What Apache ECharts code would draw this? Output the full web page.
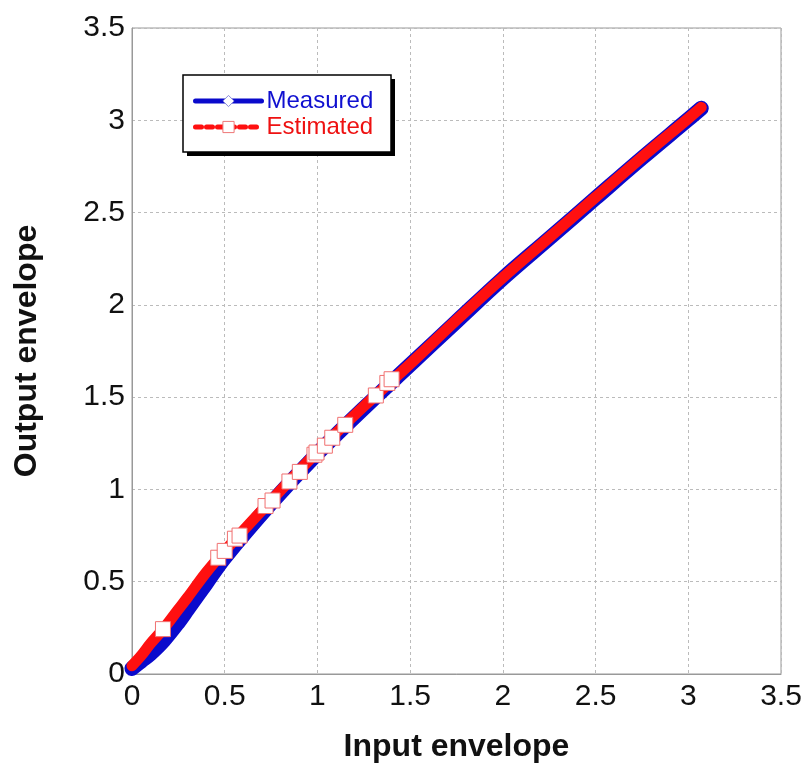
<!DOCTYPE html>
<html>
<head>
<meta charset="utf-8">
<script src="https://cdn.jsdelivr.net/npm/echarts@6/dist/echarts.min.js"></script>
<style>
  html, body { margin: 0; padding: 0; background: #fff; }
  #chart { width: 807px; height: 773px; }
</style>
</head>
<body>
<div id="chart"></div>
<script>
// input envelope samples (x)
const inputX = [0, 0.05, 0.1, 0.17, 0.25, 0.3, 0.4, 0.5, 0.75, 1.0, 1.25, 1.5, 1.75, 2.0, 2.25, 2.5, 2.75, 3.0, 3.07]
// output envelope
const measuredY = [0.03, 0.07, 0.11, 0.18, 0.28, 0.35, 0.49, 0.63, 0.925, 1.195, 1.44, 1.675, 1.91, 2.143, 2.36, 2.578, 2.795, 3.005, 3.065]
const estimatedY = [0.045, 0.10, 0.165, 0.245, 0.35, 0.415, 0.55, 0.667, 0.94, 1.205, 1.45, 1.68, 1.918, 2.148, 2.365, 2.583, 2.80, 3.01, 3.07]

// white square markers on the estimated curve
const markerX = [0.167, 0.465, 0.5, 0.555, 0.58, 0.72, 0.758, 0.849, 0.905, 0.984, 0.995, 1.04, 1.08, 1.15, 1.315, 1.377, 1.40]
const markerY = [0.243, 0.63, 0.667, 0.733, 0.75, 0.91, 0.94, 1.043, 1.095, 1.188, 1.2, 1.237, 1.28, 1.35, 1.509, 1.577, 1.597]

const toPairs = (xs, ys) => xs.map((x, i) => [x, ys[i]])

const chart = echarts.init(document.getElementById('chart'))

const font = 'Arial, Liberation Sans, sans-serif'

const axisCommon = {
  type: 'value',
  min: 0,
  max: 3.5,
  interval: 0.5,
  axisLine: { show: true, lineStyle: { color: '#999', width: 1 } },
  axisTick: { show: false },
  axisLabel: { color: '#111', fontSize: 30, fontFamily: font },
  splitLine: { show: true, lineStyle: { color: '#bbb', type: [3, 3], width: 1 } },
  nameLocation: 'middle',
  nameTextStyle: { color: '#111', fontSize: 32, fontWeight: 'bold', fontFamily: font }
}

const option = {
  backgroundColor: '#fff',
  animation: false,
  grid: {
    left: 132, right: 26, top: 28, bottom: 99,
    outerBoundsMode: 'none',
    show: true, borderColor: '#999', borderWidth: 1, backgroundColor: '#fff'
  },
  // legend frame: black offset block for the shadow, white bordered box on top
  graphic: [
    {
      type: 'rect',
      z: 8,
      shape: { x: 187, y: 79, width: 208, height: 77 },
      style: { fill: '#000' }
    },
    {
      type: 'rect',
      z: 9,
      shape: { x: 183, y: 75, width: 208, height: 77 },
      style: { fill: '#fff', stroke: '#000', lineWidth: 1.5 }
    }
  ],
  legend: {
    z: 10,
    left: 193, top: 89,
    orient: 'vertical',
    itemWidth: 66, itemHeight: 14, itemGap: 2,
    padding: 0,
    textStyle: { fontSize: 24, fontFamily: font },
    data: [
      {
        name: 'Measured',
        textStyle: { color: '#1010d0' },
        lineStyle: { color: '#0a0acc', width: 5, type: 'solid' },
        itemStyle: { color: '#fff', borderColor: '#8888dd', borderWidth: 1 }
      },
      {
        name: 'Estimated',
        textStyle: { color: '#ee1111' },
        lineStyle: { color: '#ff1010', width: 5, type: [6, 5] },
        itemStyle: { color: '#fff', borderColor: '#ee7777', borderWidth: 1 }
      }
    ]
  },
  xAxis: { ...axisCommon, name: 'Input envelope', nameGap: 57, axisLabel: { ...axisCommon.axisLabel, margin: 8 } },
  yAxis: { ...axisCommon, name: 'Output envelope', nameGap: 89, axisLabel: { ...axisCommon.axisLabel, margin: 7 } },
  series: [
    {
      name: 'Measured',
      type: 'line',
      data: toPairs(inputX, measuredY),
      smooth: 0.35,
      showSymbol: false,
      symbol: 'diamond',
      symbolSize: 14,
      lineStyle: { color: '#0a0acc', width: 15, cap: 'round', join: 'round' },
      itemStyle: { color: '#0a0acc' },
      z: 2
    },
    {
      name: 'Estimated',
      type: 'line',
      data: toPairs(inputX, estimatedY),
      smooth: 0.35,
      showSymbol: false,
      symbol: 'rect',
      symbolSize: 14,
      lineStyle: { color: '#ff1010', width: 11, cap: 'round', join: 'round' },
      itemStyle: { color: '#ff1010' },
      z: 3
    },
    {
      name: 'Estimated markers',
      type: 'scatter',
      data: toPairs(markerX, markerY),
      symbol: 'rect',
      symbolSize: 15,
      itemStyle: { color: '#fff', opacity: 1, borderColor: '#f07070', borderWidth: 1 },
      z: 4
    }
  ]
}

chart.setOption(option)
</script>
</body>
</html>
